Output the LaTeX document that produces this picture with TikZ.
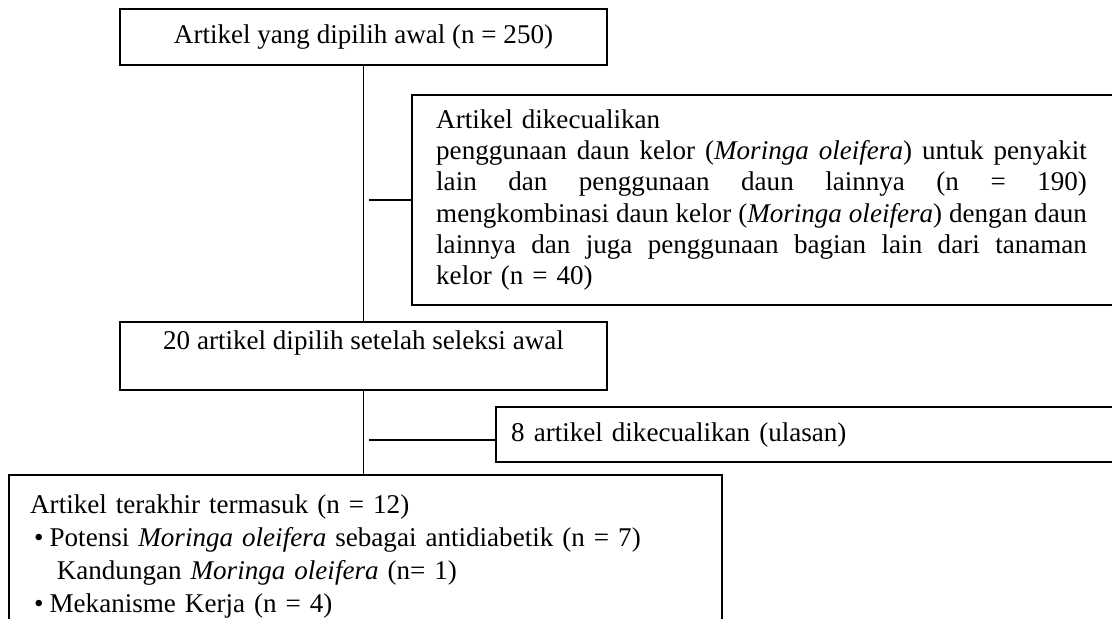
\documentclass[tikz,border=0pt]{standalone}
\usepackage{fontspec}
\setmainfont{Liberation Serif}
\tikzset{every picture/.style={line width=0.75pt}}
\tikzset{
  flowbox/.style={draw, line width=1.8pt, inner sep=0pt, font=\fontsize{20.3}{23.3}\selectfont},
  link/.style={line width=1.4pt},
}
\newcommand{\fullline}[1]{\makebox[488pt][s]{\spaceskip=0pt\relax #1}}

\begin{document}
\begin{tikzpicture}[x=0.75pt,y=0.75pt,yscale=-1,xscale=1]
%set diagram to 1112 x 618
\clip (0,0) rectangle (1112,618);

%Box: first selection
\node (awal) [flowbox, minimum width=365.25pt, minimum height=42pt] at (363.5,37) {Artikel yang dipilih awal (n = 250)};
%Box: excluded articles
\node (kecuali) [flowbox, anchor=west, inner xsep=18pt, text width=525pt, align=left, minimum height=157.5pt] at (411,200) {Artikel dikecualikan\\
\fullline{penggunaan daun kelor (\textit{Moringa oleifera}) untuk penyakit}\\
\fullline{lain dan penggunaan daun lainnya (n = 190)}\\
\fullline{mengkombinasi daun kelor (\textit{Moringa oleifera}) dengan daun}\\
\fullline{lainnya dan juga penggunaan bagian lain dari tanaman}\\
kelor (n = 40)};
%Box: after screening
\node (seleksi) [flowbox, minimum width=365.25pt, minimum height=51pt, align=center] at (363.5,356) {20 artikel dipilih setelah seleksi awal\\ \mbox{}};
%Box: reviews excluded
\node (ulasan) [flowbox, anchor=west, inner xsep=11.25pt, text width=600pt, align=left, minimum height=41.25pt] at (495,434.5) {8 artikel dikecualikan (ulasan)};
%Box: final
\node (akhir) [flowbox, anchor=north west, inner xsep=15.75pt, inner ysep=15pt, text width=503.25pt, align=left, font=\fontsize{20.3}{24.75}\selectfont] at (8,474) {Artikel terakhir termasuk (n = 12)\\
\hspace*{3pt}\textbullet\hspace{4.5pt}Potensi \textit{Moringa oleifera} sebagai antidiabetik (n = 7)\\
\hspace*{20pt}Kandungan \textit{Moringa oleifera} (n= 1)\\
\hspace*{3pt}\textbullet\hspace{4.5pt}Mekanisme Kerja (n = 4)\\
\mbox{}\\ \mbox{}};

%Connectors
\draw [link] (awal) -- (seleksi);
\draw [link] (seleksi.south) -- (seleksi.south |- akhir.north);
\coordinate (j1) at (369,200);
\coordinate (j2) at (369,440);
\draw [link] (j1) -- (kecuali.west);
\draw [link] (j2) -- (j2 -| ulasan.west);

\end{tikzpicture}
\end{document}
